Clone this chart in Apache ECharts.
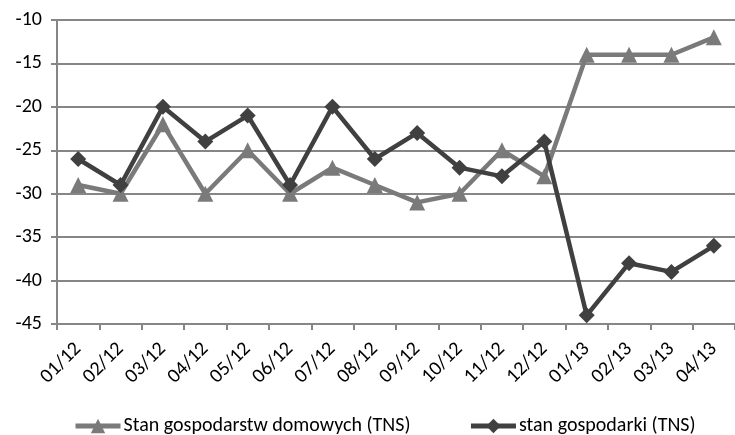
<!DOCTYPE html>
<html>
<head>
<meta charset="utf-8">
<script src="https://cdn.jsdelivr.net/npm/echarts@6/dist/echarts.min.js"></script>
<style>
  html, body { margin: 0; padding: 0; background: #fff; }
  #chart { width: 735px; height: 435px; }
</style>
</head>
<body>
<div id="chart"></div>
<script>
// Months (MM/YY)
const months = ['01/12','02/12','03/12','04/12','05/12','06/12','07/12','08/12',
                '09/12','10/12','11/12','12/12','01/13','02/13','03/13','04/13'];
// Household situation index (TNS)
const households = [-29, -30, -22, -30, -25, -30, -27, -29, -31, -30, -25, -28, -14, -14, -14, -12];
// Economy situation index (TNS)
const economy = [-26, -29, -20, -24, -21, -29, -20, -26, -23, -27, -28, -24, -44, -38, -39, -36];

const seriesNames = ['Stan gospodarstw domowych (TNS)', 'stan gospodarki (TNS)'];

const font = 'Carlito, "Open Sans", sans-serif';
const chart = echarts.init(document.getElementById('chart'), null, { renderer: 'canvas' });

chart.setOption({
  animation: false,
  backgroundColor: '#ffffff',
  grid: { left: 57, right: -6, top: 20, bottom: 111, containLabel: false },
  legend: {
    bottom: -6,
    left: 68,
    itemGap: 58,
    itemWidth: 45,
    itemHeight: 18,
    lineStyle: { width: 5 },
    textStyle: { fontFamily: font, fontSize: 20, color: '#000', padding: [0, 0, 0, -2] },
    data: [seriesNames[0], seriesNames[1]]
  },
  xAxis: {
    type: 'category',
    data: months,
    boundaryGap: true,
    axisLine: { lineStyle: { color: '#868686', width: 2 } },
    axisTick: { show: true, alignWithLabel: false, length: 6, lineStyle: { color: '#868686', width: 2 } },
    axisLabel: { rotate: 45, fontFamily: font, fontSize: 20, color: '#000', margin: 22, interval: 0 },
    splitLine: { show: false }
  },
  yAxis: {
    type: 'value',
    min: -45,
    max: -10,
    interval: 5,
    axisLine: { show: true, lineStyle: { color: '#868686', width: 2 } },
    axisTick: { show: true, length: 6, lineStyle: { color: '#868686', width: 2 } },
    axisLabel: { fontFamily: font, fontSize: 20, color: '#000', margin: 15 },
    splitLine: { lineStyle: { color: '#868686', width: 2 } }
  },
  series: [
    {
      name: seriesNames[0],
      type: 'line',
      data: households,
      symbol: 'triangle',
      symbolSize: 16,
      itemStyle: { color: '#7a7a7a' },
      lineStyle: { color: '#7a7a7a', width: 4.5 },
      z: 2
    },
    {
      name: seriesNames[1],
      type: 'line',
      data: economy,
      symbol: 'diamond',
      symbolSize: 16,
      itemStyle: { color: '#404040' },
      lineStyle: { color: '#404040', width: 4.5 },
      z: 3
    }
  ]
});
</script>
</body>
</html>
